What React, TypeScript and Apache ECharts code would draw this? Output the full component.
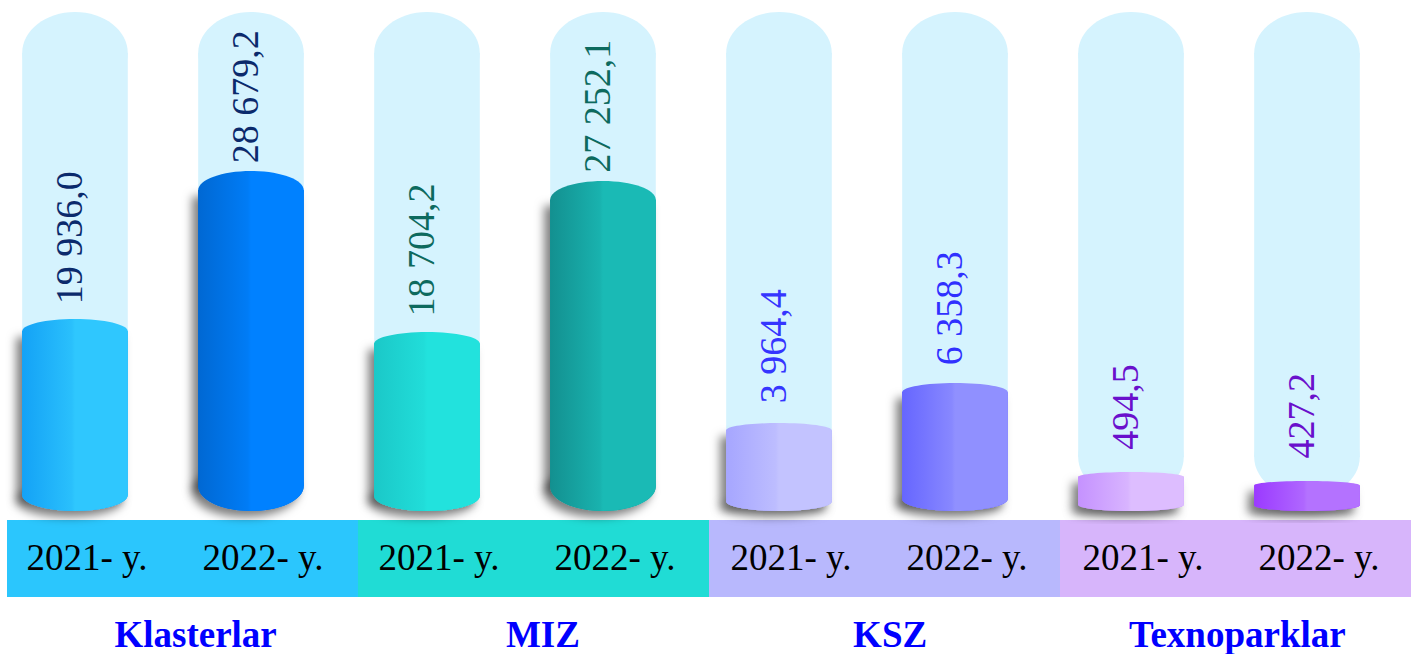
import React, { useEffect, useRef } from "react";
import * as echarts from "echarts";

// ---- data ----
const groups = ["Klasterlar", "MIZ", "KSZ", "Texnoparklar"];
const years = ["2021- y.", "2022- y."];
const values = [19936.0, 28679.2, 18704.2, 27252.1, 3964.4, 6358.3, 494.5, 427.2];
// visual cylinder level as drawn in the infographic (not proportional to values)
const barLevels = [192, 340, 179, 330, 88, 128, 39, 30];

// ---- styles ----
const darkColors = ["#14a2f6", "#0068d3", "#1bc8c8", "#139090", "#a6a6ff", "#6666ff", "#c592ff", "#9b3aff"];
const lightColors = ["#2fc7fe", "#0081ff", "#22e2dd", "#1abab5", "#c3c3ff", "#9090ff", "#ddbdff", "#b472ff"];
const labelColors = ["#0b2a6c", "#0b2a6c", "#0d6a5e", "#0d6a5e", "#3535ff", "#3030ff", "#6a10cc", "#6a10cc"];
const bandColors = ["#2bc6fd", "#20dcd5", "#b8b8fd", "#d7b5fb"];
const CAPSULE_COLOR = "#d5f3fe";
const FONT = "Liberation Serif, Times New Roman, serif";

const AXIS_MAX = 500;
const CAPSULE_TOP = 499;
const CAPSULE_BOTTOM = 13;

function fmt(v: number): string {
  const s = v.toFixed(1);
  const [ip, dp] = s.split(".");
  const withSpaces = ip.replace(/\B(?=(\d{3})+(?!\d))/g, " ");
  return withSpaces + "," + dp;
}

function mix(a: string, b: string, t: number): string {
  const pa = [1, 3, 5].map((k) => parseInt(a.slice(k, k + 2), 16));
  const pb = [1, 3, 5].map((k) => parseInt(b.slice(k, k + 2), 16));
  const c = pa.map((x, k) => Math.round(x + (pb[k] - x) * t));
  return "#" + c.map((x) => x.toString(16).padStart(2, "0")).join("");
}

export default function App() {
  const ref = useRef<HTMLDivElement>(null);
  useEffect(() => {
    if (!ref.current) return;
    const chart = echarts.init(ref.current, undefined, { renderer: "svg" });

    const renderItem = (params: any, api: any) => {
      const i = api.value(0);
      const level = api.value(1);
      const [cx, topY] = api.coord([i, level]);
      const baseY = api.coord([i, 0])[1];
      const capTop = api.coord([i, CAPSULE_TOP])[1];
      const capBot = api.coord([i, CAPSULE_BOTTOM])[1];
      const slot = api.size([1, 0])[0];
      const w = slot * 0.6;
      const half = w / 2;
      const left = cx - half;
      const capR = 41;

      const h = baseY - topY;
      const ryT = 3 + 0.048 * h;
      const ryB = ryT * 1.3;
      const cyT = topY + ryT;
      const cyB = baseY - ryB;

      const dark = darkColors[i];
      const light = lightColors[i];
      const grad = () =>
        new echarts.graphic.LinearGradient(0, 0, 1, 0, [
          { offset: 0, color: dark },
          { offset: 0.47, color: mix(dark, light, 0.8) },
          { offset: 0.5, color: light },
          { offset: 1, color: light },
        ]);
      const shadow = {
        fill: dark,
        shadowBlur: 10,
        shadowColor: "rgba(0,0,0,0.5)",
        shadowOffsetX: -6,
        shadowOffsetY: 6,
      };

      const children: any[] = [
        // capsule background
        { type: "ellipse", shape: { cx, cy: capTop + capR, rx: half, ry: capR }, style: { fill: CAPSULE_COLOR } },
        { type: "rect", shape: { x: left, y: capTop + capR, width: w, height: capBot - capR - (capTop + capR) }, style: { fill: CAPSULE_COLOR } },
        { type: "ellipse", shape: { cx, cy: capBot - capR, rx: half, ry: capR }, style: { fill: CAPSULE_COLOR } },
        // shadow silhouette
        { type: "rect", shape: { x: left, y: cyT, width: w, height: cyB - cyT }, style: shadow },
        { type: "ellipse", shape: { cx, cy: cyB, rx: half, ry: ryB }, style: shadow },
        // cylinder
        { type: "rect", shape: { x: left, y: cyT, width: w, height: cyB - cyT }, style: { fill: grad() } },
        { type: "ellipse", shape: { cx, cy: cyB, rx: half, ry: ryB }, style: { fill: grad() } },
        { type: "ellipse", shape: { cx, cy: cyT, rx: half, ry: ryT }, style: { fill: grad() } },
        // value label
        {
          type: "text",
          x: cx - 6,
          y: cyT - 27,
          rotation: Math.PI / 2,
          style: {
            text: fmt(values[i]),
            fill: labelColors[i],
            fontSize: 38,
            fontFamily: FONT,
            align: "left",
            verticalAlign: "middle",
          },
        },
        // year label
        {
          type: "text",
          x: cx + 12,
          y: baseY + 46,
          style: {
            text: years[i % 2],
            fill: "#000",
            fontSize: 37,
            fontFamily: FONT,
            align: "center",
            verticalAlign: "middle",
          },
        },
      ];
      return { type: "group", children };
    };

    chart.setOption({
      animation: false,
      grid: [
        { left: 0, right: 0, top: 11, bottom: 143 },
        { left: 7, right: 0, top: 520, bottom: 57 },
        { left: 22, right: 0, top: 520, bottom: 57 },
      ],
      xAxis: [
        { type: "value", gridIndex: 0, min: -0.426, max: 7.591, show: false },
        { type: "category", gridIndex: 1, data: groups, show: false },
        {
          type: "category",
          gridIndex: 2,
          data: groups,
          axisLine: { show: false },
          axisTick: { show: false },
          axisLabel: {
            color: "#0000ff",
            fontSize: 37,
            fontWeight: "bold",
            fontFamily: FONT,
            margin: 19,
          },
        },
      ],
      yAxis: [
        { type: "value", gridIndex: 0, min: 0, max: AXIS_MAX, show: false },
        { type: "value", gridIndex: 1, min: 0, max: 1, show: false },
        { type: "value", gridIndex: 2, min: 0, max: 1, show: false },
      ],
      series: [
        {
          type: "bar",
          xAxisIndex: 1,
          yAxisIndex: 1,
          barWidth: "100%",
          z: 1,
          data: groups.map((_, k) => ({ value: 1, itemStyle: { color: bandColors[k] } })),
        },
        {
          type: "custom",
          xAxisIndex: 0,
          yAxisIndex: 0,
          z: 5,
          renderItem,
          data: barLevels.map((lv, k) => [k, lv]),
        },
      ],
    });
    return () => chart.dispose();
  }, []);
  return (
    <div
      ref={ref}
      style={{ position: "absolute", left: 0, top: 0, width: 1411, height: 654 }}
    />
  );
}
